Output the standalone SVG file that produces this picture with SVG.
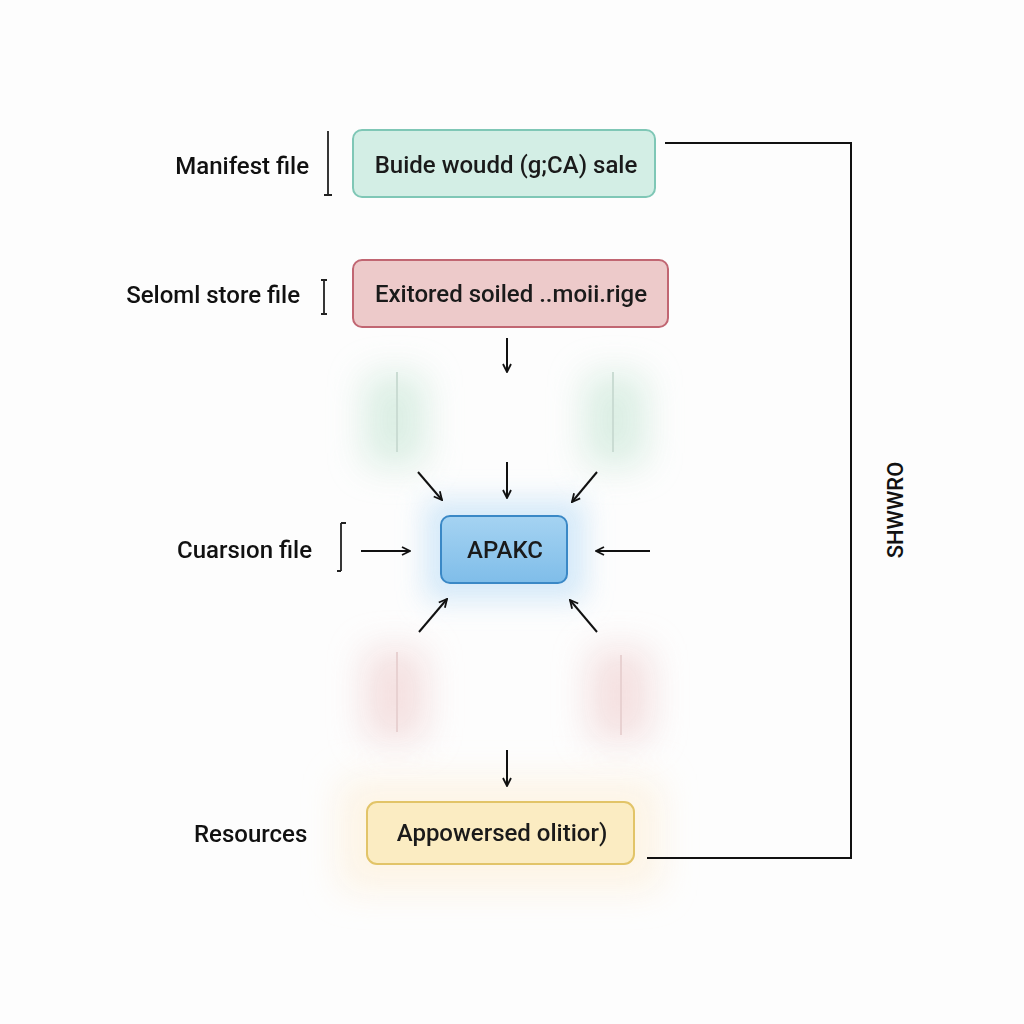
<svg xmlns="http://www.w3.org/2000/svg" width="1024" height="1024" viewBox="0 0 1024 1024">
<style>
.lbl{font-family:Roboto,"Liberation Sans",sans-serif;font-size:24px;font-weight:500;fill:#111}
.ntx{font-family:Roboto,"Liberation Sans",sans-serif;font-size:24px;font-weight:500;fill:#1a1a1a;text-anchor:middle}
.ln{stroke:#111;stroke-width:2;fill:none}
.ar{stroke:#111;stroke-width:2;fill:none;marker-end:url(#ah)}
.br{stroke:#222;stroke-width:1.8;fill:none}
</style>
<defs>
<marker id="ah" viewBox="0 0 10 10" refX="9" refY="5" markerWidth="10" markerHeight="10" markerUnits="userSpaceOnUse" orient="auto"><path d="M1,1 L9,5 L1,9" fill="none" stroke="#111" stroke-width="1.8"/></marker>
<filter id="blur" x="-100%" y="-100%" width="300%" height="300%"><feGaussianBlur stdDeviation="18"/></filter>
<filter id="glow" x="-50%" y="-50%" width="200%" height="200%"><feGaussianBlur stdDeviation="14"/></filter>
<linearGradient id="gb" x1="0" y1="0" x2="0" y2="1"><stop offset="0" stop-color="#a5d3f2"/><stop offset="1" stop-color="#7fbde9"/></linearGradient>
</defs>
<rect width="1024" height="1024" fill="#fdfdfd"/>
<g id="background-glows" opacity="0.9">
<rect x="365" y="375" width="60" height="90" fill="#d6ece0" filter="url(#blur)"/>
<rect x="585" y="375" width="60" height="90" fill="#d6ece0" filter="url(#blur)"/>
<rect x="365" y="650" width="60" height="90" fill="#f3dcdc" filter="url(#blur)"/>
<rect x="590" y="650" width="60" height="90" fill="#f3dcdc" filter="url(#blur)"/>
<rect x="340" y="780" width="320" height="110" fill="#fdf3e2" filter="url(#blur)"/>
<rect x="425" y="500" width="160" height="100" fill="#cfe6f8" filter="url(#glow)"/>
<line x1="397" y1="372" x2="397" y2="452" stroke="#c4d9cf" stroke-width="2"/>
<line x1="613" y1="372" x2="613" y2="452" stroke="#c4d9cf" stroke-width="2"/>
<line x1="397" y1="652" x2="397" y2="732" stroke="#e6cccc" stroke-width="2"/>
<line x1="621" y1="655" x2="621" y2="735" stroke="#e6cccc" stroke-width="2"/>
</g>
<g id="label-manifest">
<text class="lbl" x="309" y="174" text-anchor="end">Manifest file</text>
<path class="br" d="M328,131 V195 M324,195 H332"/>
</g>
<g id="label-store">
<text class="lbl" x="300" y="303" text-anchor="end">Seloml store file</text>
<path class="br" d="M324,280 V314 M321,280 H327 M321,314 H327"/>
</g>
<g id="label-cuarsion">
<text class="lbl" x="312" y="558" text-anchor="end">Cuarsıon file</text>
<path class="br" d="M341,523 V571 M341,523 H346 M337,571 H341"/>
</g>
<g id="label-resources">
<text class="lbl" x="194" y="842">Resources</text>
</g>
<g id="node-buide">
<rect x="353" y="130" width="302" height="67" rx="9" fill="#d3eee5" stroke="#7fc7b6" stroke-width="2"/>
<text class="ntx" x="506" y="173">Buide woudd (g;CA) sale</text>
</g>
<g id="node-exitored">
<rect x="353" y="260" width="315" height="67" rx="9" fill="#edcaca" stroke="#c16672" stroke-width="2"/>
<text class="ntx" x="511" y="302">Exitored soiled ..moii.rige</text>
</g>
<g id="node-apakc">
<rect x="441" y="516" width="126" height="67" rx="9" fill="url(#gb)" stroke="#3a88c6" stroke-width="2"/>
<text class="ntx" x="505" y="558">APAKC</text>
</g>
<g id="node-appowersed">
<rect x="367" y="802" width="267" height="62" rx="10" fill="#fbecc2" stroke="#e2c468" stroke-width="2"/>
<text class="ntx" x="502" y="841">Appowersed olitior)</text>
</g>
<g id="side-label">
<text class="lbl" transform="translate(903,510) rotate(-90)" text-anchor="middle" style="font-size:22px">SHWWRO</text>
</g>
<g id="connectors">
<line class="ar" x1="507" y1="338" x2="507" y2="372"/>
<line class="ar" x1="507" y1="462" x2="507" y2="498"/>
<line class="ar" x1="418" y1="472" x2="442" y2="500"/>
<line class="ar" x1="597" y1="472" x2="572" y2="502"/>
<line class="ar" x1="361" y1="551" x2="410" y2="551"/>
<line class="ar" x1="650" y1="551" x2="596" y2="551"/>
<line class="ar" x1="419" y1="632" x2="447" y2="599"/>
<line class="ar" x1="597" y1="632" x2="570" y2="600"/>
<line class="ar" x1="507" y1="750" x2="507" y2="786"/>
<path class="ln" d="M665,143 H851 V858 H647"/>
</g>
</svg>
